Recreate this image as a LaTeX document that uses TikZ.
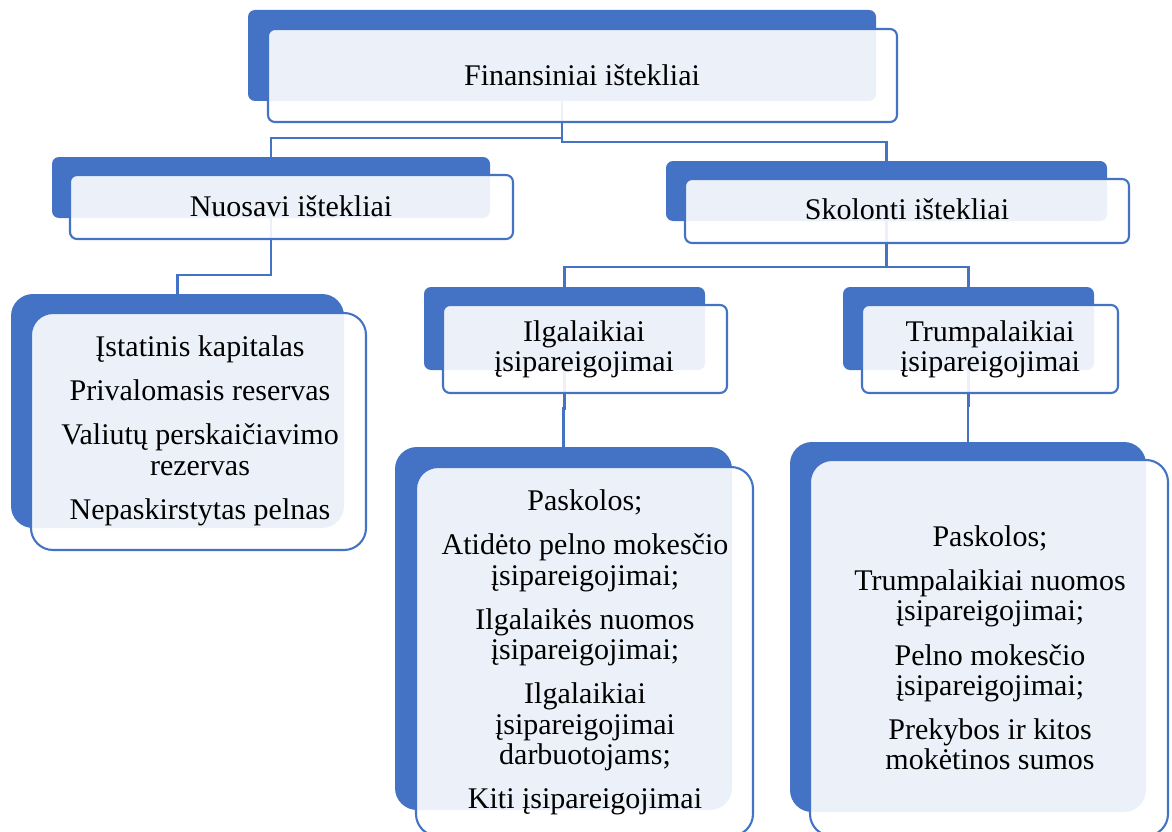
\documentclass[tikz,border=0pt]{standalone}
\usepackage{fontspec}
\setmainfont{Liberation Serif}
\usetikzlibrary{calc}
\definecolor{accent}{HTML}{4472C4}
\tikzset{
  backbox/.style={draw=none, fill=accent, inner sep=0pt, outer sep=0pt},
  frontbox/.style={draw=accent, line width=2.1pt, fill=white, fill opacity=0.9, inner sep=0pt, outer sep=0pt},
  small/.style={rounded corners=7pt},
  big/.style={rounded corners=22pt},
  label/.style={text=black, align=center, inner sep=0pt,
    font=\fontsize{30}{30.3}\selectfont,
    execute at begin node=\strut, execute at end node=\strut},
  conn/.style={draw=accent, line width=2.7pt}
}
\begin{document}
\begin{tikzpicture}[x=1pt, y=-1pt]
\path[use as bounding box] (0,0) rectangle (1172,832);
\clip (0,0) rectangle (1172,832);

% back plates (coloured shapes behind each card)
\node[backbox, small, minimum width=628pt, minimum height=91pt] (rootB) at (562,55.5) {};
\node[backbox, small, minimum width=438pt, minimum height=61pt] (ownB) at (271,187.5) {};
\node[backbox, small, minimum width=441pt, minimum height=60pt] (borB) at (886.5,191) {};
\node[backbox, small, minimum width=281pt, minimum height=83pt] (longB) at (564.5,328.5) {};
\node[backbox, small, minimum width=251pt, minimum height=83pt] (shortB) at (968.5,328.5) {};
\node[backbox, big, minimum width=333pt, minimum height=234pt] (ownLB) at (177.5,411) {};
\node[backbox, big, minimum width=337pt, minimum height=363pt] (longLB) at (563.5,628.5) {};
\node[backbox, big, minimum width=356pt, minimum height=370pt] (shortLB) at (968,627) {};

% connectors between the plates
\draw[conn] (rootB.south) |- (271,138) -- (ownB.north);
\draw[conn] (rootB.south) |- (886.5,142) -- (borB.north);
\draw[conn] (ownB.south) |- (177.5,275) -- (ownLB.north);
\draw[conn] (borB.south) |- (564.5,267) -- (longB.north);
\draw[conn] (borB.south) |- (968.5,267) -- (shortB.north);
\draw[conn] (longB.south) |- ($(longB.south)!0.5!(longLB.north)$) -| (longLB.north);
\draw[conn] (shortB.south) |- ($(shortB.south)!0.5!(shortLB.north)$) -| (shortLB.north);

% front cards
\node[frontbox, small, minimum width=629pt, minimum height=93pt] (rootF) at (582.5,75.5) {};
\node[frontbox, small, minimum width=443pt, minimum height=64pt] (ownF) at (291.5,207) {};
\node[frontbox, small, minimum width=444pt, minimum height=64pt] (borF) at (907,211) {};
\node[frontbox, small, minimum width=284pt, minimum height=88pt] (longF) at (585,349) {};
\node[frontbox, small, minimum width=256pt, minimum height=88pt] (shortF) at (990,349) {};
\node[frontbox, big, minimum width=335pt, minimum height=237pt] (ownLF) at (198.5,431.5) {};
\node[frontbox, big, minimum width=337pt, minimum height=369pt] (longLF) at (584.5,651.5) {};
\node[frontbox, big, minimum width=358pt, minimum height=376pt] (shortLF) at (989,648) {};

% texts
\node[label] (rootT) at (582,79) {Finansiniai ištekliai};
\node[label] (ownT) at (291,210.7) {Nuosavi ištekliai};
\node[label] (borT) at (907,213) {Skolonti ištekliai};
\node[label] (longT) at (584,350.7) {Ilgalaikiai\\įsipareigojimai};
\node[label] (shortT) at (990,350.7) {Trumpalaikiai\\įsipareigojimai};
\node[label] (ownLT) at (200,432) {Įstatinis kapitalas\\[14pt]
  Privalomasis reservas\\[14pt]
  Valiutų perskaičiavimo\\rezervas\\[14pt]
  Nepaskirstytas pelnas};
\node[label] (longLT) at (585,653.8) {Paskolos;\\[14pt]
  Atidėto pelno mokesčio\\įsipareigojimai;\\[14pt]
  Ilgalaikės nuomos\\įsipareigojimai;\\[14pt]
  Ilgalaikiai\\įsipareigojimai\\darbuotojams;\\[14pt]
  Kiti įsipareigojimai};
\node[label] (shortLT) at (990,652.2) {Paskolos;\\[14pt]
  Trumpalaikiai nuomos\\įsipareigojimai;\\[14pt]
  Pelno mokesčio\\įsipareigojimai;\\[14pt]
  Prekybos ir kitos\\mokėtinos sumos};
\end{tikzpicture}
\end{document}
